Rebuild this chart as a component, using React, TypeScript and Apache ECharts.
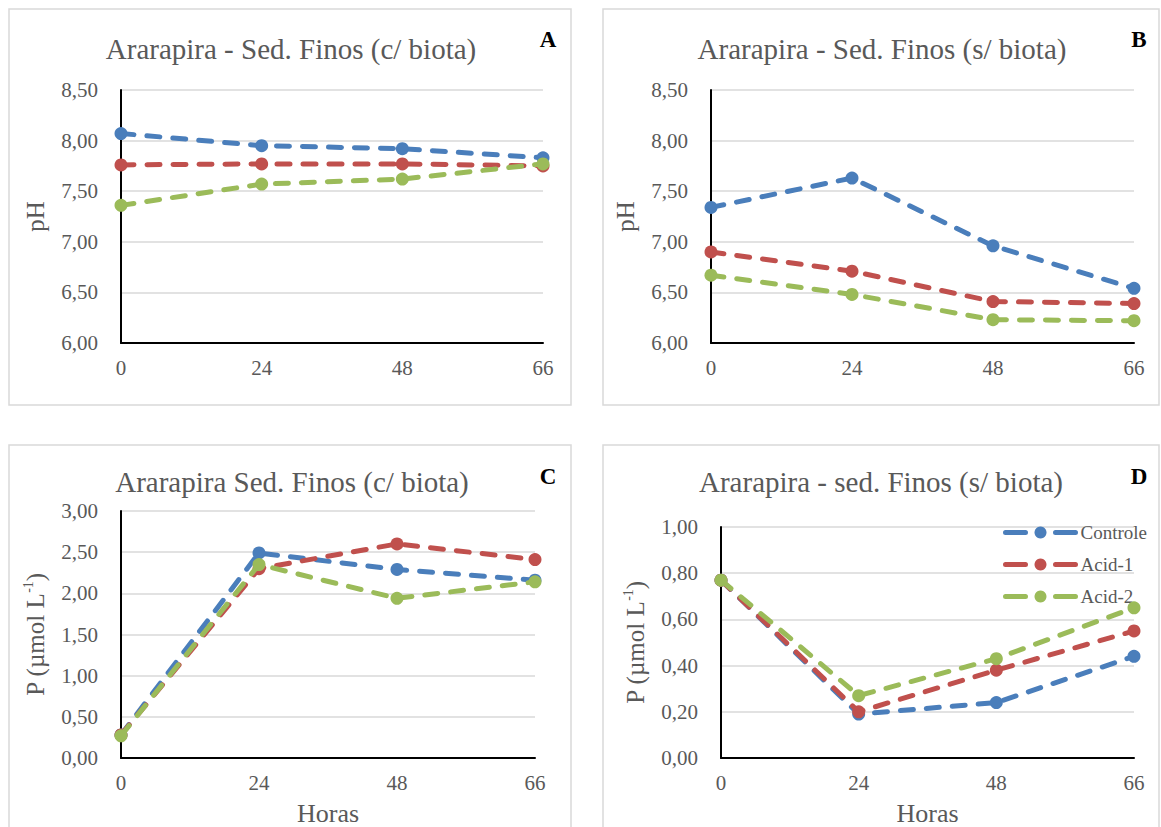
import React, { useEffect, useRef } from "react";
import * as echarts from "echarts";

const hours = ["0", "24", "48", "66"];
const seriesNames = ["Controle", "Acid-1", "Acid-2"];
const colors = ["#4A7EBB", "#C0504D", "#9BBB59"];

// A: pH, sediment with biota
const phBiotaControle = [8.07, 7.95, 7.92, 7.83];
const phBiotaAcid1 = [7.76, 7.77, 7.77, 7.75];
const phBiotaAcid2 = [7.36, 7.57, 7.62, 7.77];
// B: pH, sediment without biota
const phNoBiotaControle = [7.34, 7.63, 6.96, 6.54];
const phNoBiotaAcid1 = [6.9, 6.71, 6.41, 6.39];
const phNoBiotaAcid2 = [6.67, 6.48, 6.23, 6.22];
// C: P, sediment with biota
const pBiotaControle = [0.28, 2.49, 2.29, 2.16];
const pBiotaAcid1 = [0.28, 2.3, 2.6, 2.41];
const pBiotaAcid2 = [0.27, 2.35, 1.94, 2.14];
// D: P, sediment without biota
const pNoBiotaControle = [0.77, 0.19, 0.24, 0.44];
const pNoBiotaAcid1 = [0.77, 0.2, 0.38, 0.55];
const pNoBiotaAcid2 = [0.77, 0.27, 0.43, 0.65];

const panelTitles = [
  "Ararapira - Sed. Finos (c/ biota)",
  "Ararapira - Sed. Finos (s/ biota)",
  "Ararapira Sed. Finos (c/ biota)",
  "Ararapira - sed. Finos (s/ biota)",
];
const panelLetters = ["A", "B", "C", "D"];
const yNames = ["pH", "pH", "P (µmol L{sup|-1})", "P (µmol L{sup|-1})"];
const xName = "Horas";
const yRanges = [
  { min: 6, max: 8.5, interval: 0.5 },
  { min: 6, max: 8.5, interval: 0.5 },
  { min: 0, max: 3, interval: 0.5 },
  { min: 0, max: 1, interval: 0.2 },
];
const panelData = [
  [phBiotaControle, phBiotaAcid1, phBiotaAcid2],
  [phNoBiotaControle, phNoBiotaAcid1, phNoBiotaAcid2],
  [pBiotaControle, pBiotaAcid1, pBiotaAcid2],
  [pNoBiotaControle, pNoBiotaAcid1, pNoBiotaAcid2],
];

const FONT = "'Liberation Serif', 'Times New Roman', serif";
const GRAY = "#595959";

const grids = [
  { left: 121, top: 90, width: 422, height: 253 },
  { left: 711, top: 90, width: 423, height: 253 },
  { left: 121, top: 511, width: 414, height: 249 },
  { left: 721, top: 527, width: 413, height: 233 },
];
const boxes = [
  { x: 9, y: 9, w: 562, h: 396 },
  { x: 603, y: 9, w: 556, h: 396 },
  { x: 9, y: 445, w: 562, h: 420 },
  { x: 603, y: 445, w: 556, h: 420 },
];
const titlePos = [
  { x: 291, y: 49 },
  { x: 882, y: 49 },
  { x: 292, y: 482 },
  { x: 881, y: 482 },
];
const letterPos = [
  { x: 548, y: 39 },
  { x: 1139, y: 39 },
  { x: 548, y: 476 },
  { x: 1139, y: 476 },
];

export default function App() {
  const ref = useRef<HTMLDivElement>(null);
  useEffect(() => {
    if (!ref.current) return;
    const chart = echarts.init(ref.current, undefined, { renderer: "svg" });
    const fmt = (v: number) => v.toFixed(2).replace(".", ",");

    const xAxis = grids.map((_, i) => ({
      type: "category",
      gridIndex: i,
      data: hours,
      boundaryGap: false,
      axisTick: { show: false },
      axisLine: { lineStyle: { color: "#000", width: 2 } },
      axisLabel: { color: GRAY, fontFamily: FONT, fontSize: 21, margin: 14 },
      splitLine: { show: false },
      name: i >= 2 ? xName : "",
      nameLocation: "middle",
      nameGap: 42,
      nameTextStyle: { color: GRAY, fontFamily: FONT, fontSize: 26 },
    }));
    const yAxis = grids.map((_, i) => ({
      type: "value",
      gridIndex: i,
      min: yRanges[i].min,
      max: yRanges[i].max,
      interval: yRanges[i].interval,
      axisLine: { show: true, lineStyle: { color: "#000", width: 2 } },
      axisTick: { show: false },
      axisLabel: { color: GRAY, fontFamily: FONT, fontSize: 21, margin: 23, formatter: fmt },
      splitLine: { lineStyle: { color: "#D9D9D9", width: 1.5 } },
      name: yNames[i],
      nameLocation: "middle",
      nameGap: 72,
      nameTextStyle: {
        color: GRAY,
        fontFamily: FONT,
        fontSize: 25,
        lineHeight: 28,
        rich: {
          sup: { fontSize: 14, fontFamily: FONT, color: GRAY, verticalAlign: "top", lineHeight: 14 },
        },
      },
    }));

    const series: any[] = [];
    panelData.forEach((group, gi) => {
      group.forEach((vals, si) => {
        series.push({
          type: "line",
          name: seriesNames[si],
          xAxisIndex: gi,
          yAxisIndex: gi,
          data: vals,
          symbol: "circle",
          symbolSize: 13,
          color: colors[si],
          itemStyle: { color: colors[si] },
          lineStyle: { color: colors[si], width: 5, type: [13, 13], cap: "round" },
          z: 2 + si,
        });
      });
    });

    const graphic: any[] = [];
    boxes.forEach((b) => {
      graphic.push({
        type: "rect",
        shape: { x: b.x, y: b.y, width: b.w, height: b.h },
        style: { fill: "none", stroke: "#D9D9D9", lineWidth: 1.5 },
        silent: true,
      });
    });
    panelTitles.forEach((t, i) => {
      graphic.push({
        type: "text",
        x: titlePos[i].x,
        y: titlePos[i].y,
        style: {
          text: t,
          font: `29px ${FONT}`,
          fill: GRAY,
          align: "center",
          verticalAlign: "middle",
          textAlign: "center",
          textVerticalAlign: "middle",
        },
      });
      graphic.push({
        type: "text",
        x: letterPos[i].x,
        y: letterPos[i].y,
        style: {
          text: panelLetters[i],
          font: `bold 23px ${FONT}`,
          fill: "#000",
          align: "center",
          verticalAlign: "middle",
          textAlign: "center",
          textVerticalAlign: "middle",
        },
      });
    });

    chart.setOption({
      animation: false,
      backgroundColor: "#fff",
      grid: grids.map((g) => ({ ...g, containLabel: false })),
      xAxis,
      yAxis,
      legend: {
        data: seriesNames,
        orient: "vertical",
        left: 998,
        top: 518,
        itemWidth: 70,
        itemHeight: 15,
        itemGap: 13,
        lineStyle: { width: 5, type: [20, 30], cap: "round" },
        textStyle: { color: GRAY, fontFamily: FONT, fontSize: 19 },
      },
      series,
      graphic,
    });
    return () => chart.dispose();
  }, []);
  return (
    <div
      ref={ref}
      style={{ position: "absolute", left: 0, top: 0, width: 1161, height: 827, background: "#fff" }}
    />
  );
}
